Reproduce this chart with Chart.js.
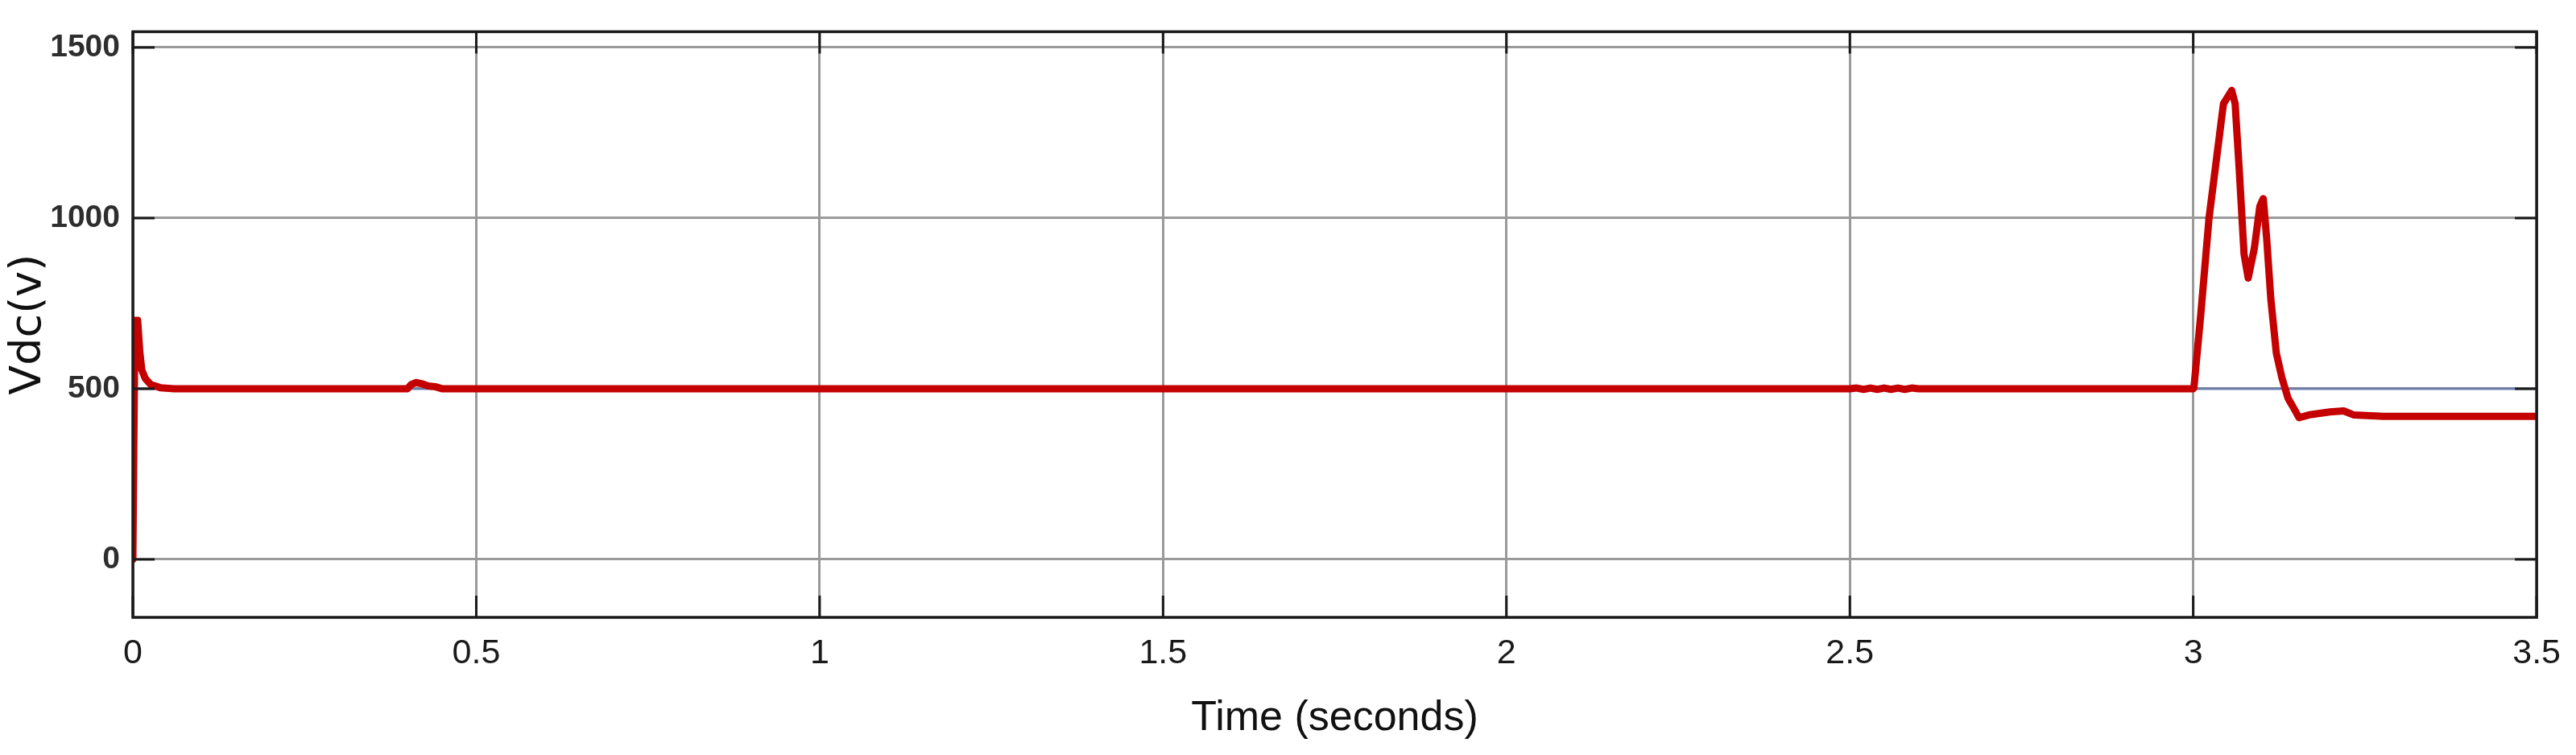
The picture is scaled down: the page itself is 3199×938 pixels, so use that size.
<!DOCTYPE html>
<html>
<head>
<meta charset="utf-8">
<script src="https://cdn.jsdelivr.net/npm/chart.js@4.4.1/dist/chart.umd.min.js"></script>
<style>
  html, body { margin: 0; padding: 0; background: #fff; }
  canvas { display: block; }
</style>
</head>
<body>
<canvas id="vdcChart" width="3199" height="938"></canvas>
<script>
// DC link voltage trace

// time samples (s)
const timeS = [
  0, 0.003, 0.007, 0.010, 0.013, 0.018, 0.026, 0.040, 0.060,
  0.400, 0.405, 0.412, 0.420, 0.430, 0.440, 0.450,
  2.50, 2.51, 2.52, 2.53, 2.54, 2.55, 2.56, 2.57, 2.58, 2.59, 2.60,
  3.000, 3.001, 3.011, 3.023, 3.044, 3.056, 3.061, 3.067, 3.074, 3.080,
  3.089, 3.097, 3.102, 3.107, 3.113, 3.121, 3.129, 3.138, 3.148, 3.154,
  3.168, 3.199, 3.219, 3.234, 3.277, 3.500
];

// Vdc (V)
const vdcValues = [
  0, 700, 700, 610, 555, 530, 512, 503, 500,
  500, 512, 518, 515, 508, 506, 500,
  500, 502, 498, 502, 498, 502, 498, 502, 498, 502, 500,
  500, 503, 718, 1000, 1335, 1374, 1335, 1141, 894, 824,
  912, 1035, 1057, 938, 762, 604, 533, 472, 437, 415,
  423, 432, 435, 423, 419, 419
];

// reference level
const refTime = [0, 3.5];
const refValues = [500, 500];

const xTicks = [0, 0.5, 1, 1.5, 2, 2.5, 3, 3.5];
const yTicks = [0, 500, 1000, 1500];

const toPoints = (xs, ys) => xs.map((x, i) => ({ x: x, y: ys[i] }));

// frame + inward tick marks like the scope window
const frameTicks = {
  id: 'frameTicks',
  afterDraw(chart) {
    const { ctx, chartArea: a, scales } = chart;
    const len = 27;
    ctx.save();
    ctx.strokeStyle = '#1a1a1a';
    ctx.lineWidth = 3;
    ctx.beginPath();
    scales.x.ticks.forEach(t => {
      const px = scales.x.getPixelForValue(t.value);
      ctx.moveTo(px, a.bottom); ctx.lineTo(px, a.bottom - len);
      ctx.moveTo(px, a.top); ctx.lineTo(px, a.top + len);
    });
    scales.y.ticks.forEach(t => {
      const py = scales.y.getPixelForValue(t.value);
      ctx.moveTo(a.left, py); ctx.lineTo(a.left + len, py);
      ctx.moveTo(a.right, py); ctx.lineTo(a.right - len, py);
    });
    ctx.stroke();
    ctx.lineWidth = 3.5;
    ctx.strokeRect(a.left, a.top, a.right - a.left, a.bottom - a.top);
    ctx.restore();
  }
};

const sans = "'Liberation Sans', Arial, sans-serif";

const context = document.getElementById('vdcChart').getContext('2d');
new Chart(context, {
  type: 'line',
  data: {
    datasets: [
      { label: 'Vdc', data: toPoints(timeS, vdcValues), borderColor: '#c40000',
        borderWidth: 9, pointRadius: 0, tension: 0, borderJoinStyle: 'round', borderCapStyle: 'round' },
      { label: 'Vref', data: toPoints(refTime, refValues), borderColor: 'rgba(100,118,170,0.85)',
        borderWidth: 3, pointRadius: 0, tension: 0 }
    ]
  },
  options: {
    responsive: false, animation: false, devicePixelRatio: 1,
    layout: { padding: { top: 23, right: 44, left: 0, bottom: 0 } },
    plugins: { legend: { display: false }, tooltip: { enabled: false } },
    scales: {
      x: {
        type: 'linear', min: 0, max: 3.5,
        afterBuildTicks: s => { s.ticks = xTicks.map(v => ({ value: v })); },
        afterFit: s => { s.height = 171; },
        grid: { color: '#9a9a9a', lineWidth: 3, drawTicks: false },
        border: { display: false },
        ticks: { padding: 19, color: '#1a1a1a', maxRotation: 0,
          callback: v => String(v), font: { family: sans, size: 43 } },
        title: { display: true, text: 'Time (seconds)', color: '#111',
          font: { family: sans, size: 52 }, padding: { top: 0, bottom: 14 } }
      },
      y: {
        min: -170, max: 1546,
        afterBuildTicks: s => { s.ticks = yTicks.map(v => ({ value: v })); },
        afterFit: s => { s.width = 165; },
        grid: { color: '#9a9a9a', lineWidth: 3, drawTicks: false },
        border: { display: false },
        ticks: { padding: 16, color: '#2e2e2e',
          callback: v => String(v), font: { family: sans, size: 39, weight: 'bold' } },
        title: { display: true, text: 'Vdc(v)', color: '#111',
          font: { family: "'DejaVu Sans', sans-serif", size: 54 }, padding: { top: 4, bottom: 0 } }
      }
    }
  },
  plugins: [frameTicks]
});
</script>
</body>
</html>
